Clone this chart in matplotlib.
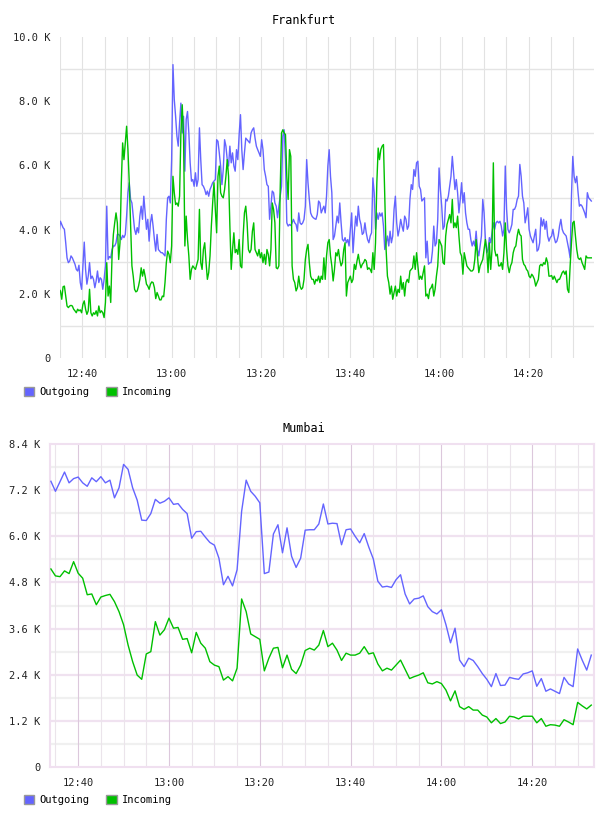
import numpy as np
import matplotlib
matplotlib.use("Agg")
import matplotlib.pyplot as plt
from matplotlib.patches import Patch
from matplotlib.ticker import FuncFormatter

# ---- data (values in thousands) ----
# Frankfurt: ~18 s samples from 12:34:30 to 14:34
fra_out = [4.26, 3.90, 4.26, 4.16, 4.06, 4.01, 3.59, 3.12, 2.97, 3.02, 3.18, 3.12, 3.02, 2.92, 2.76, 2.71,
           2.89, 2.35, 2.14, 2.87, 3.61, 2.76, 2.30, 2.55, 2.97, 2.47, 2.55, 2.45, 2.19, 2.40, 2.71, 2.35,
           2.50, 2.45, 2.14, 2.45, 2.87, 4.73, 3.07, 3.16, 3.12, 3.38, 3.49, 3.49, 3.59, 3.85, 3.85, 3.80,
           3.69, 3.82, 3.75, 3.85, 4.42, 5.15, 5.46, 4.94, 4.83, 4.42, 4.01, 3.85, 4.06, 3.90, 4.42, 4.73,
           4.32, 5.04, 4.52, 4.01, 4.32, 3.64, 4.21, 4.47, 4.11, 3.69, 3.33, 3.85, 3.38, 3.33, 3.28, 3.28,
           3.23, 3.18, 4.32, 4.99, 5.04, 4.83, 6.18, 9.14, 8.05, 7.53, 6.91, 6.60, 7.32, 7.94, 7.01, 7.53,
           5.82, 7.43, 7.68, 7.01, 6.08, 5.51, 5.56, 5.35, 5.77, 5.35, 5.56, 7.17, 6.18, 5.40, 5.35, 5.25,
           5.09, 5.20, 5.04, 5.25, 5.35, 5.46, 5.51, 5.56, 6.80, 6.75, 6.39, 5.98, 5.40, 5.87, 6.80, 6.60,
           6.18, 5.98, 6.60, 6.08, 6.39, 5.98,
           5.82, 6.49, 6.18, 6.96, 7.58, 6.49, 5.87, 6.39, 6.85, 6.80, 6.75, 6.70, 7.01, 7.11, 7.17, 6.85,
           6.60, 6.49, 6.39, 6.28, 6.80, 6.49, 5.87, 5.66, 5.40, 5.35, 4.32, 4.73, 5.20, 5.15, 4.83, 4.73,
           4.37, 4.73, 5.04, 5.35, 6.91, 7.11, 6.18, 4.21, 4.11, 4.16, 4.13, 4.21, 4.32, 4.21, 4.16, 3.95,
           4.52, 4.21, 4.16, 4.21, 4.32, 4.73, 6.18, 5.46, 4.94, 4.52, 4.42, 4.37, 4.34, 4.32, 4.47, 4.89,
           4.83, 4.52, 4.63, 4.73, 4.52, 5.04, 5.98, 6.49, 5.66, 5.15, 3.69, 3.80, 4.11, 4.42, 4.21, 4.83,
           4.21, 3.69, 3.64, 3.75, 3.59, 3.69, 3.49, 4.01, 4.52, 3.28, 3.90, 4.42, 4.11, 4.73, 4.32, 4.16,
           3.85, 3.90, 4.21, 3.90, 3.69, 3.59, 3.80, 3.90, 5.61, 5.15, 4.01, 4.52, 4.32, 4.52, 4.42, 4.52,
           4.11, 3.38, 3.59, 3.80, 3.49, 3.95, 3.59, 3.80, 4.63, 5.04, 4.21, 3.80, 4.01, 4.32, 4.11, 3.95,
           4.42, 4.32, 4.01, 4.11,
           4.94, 5.40, 5.25, 5.87, 5.66, 6.08, 6.13, 5.35, 5.25, 4.89, 4.94, 4.99, 3.12, 3.64, 2.92, 2.97,
           2.97, 3.33, 4.11, 3.49, 3.59, 4.32, 5.92, 5.25, 4.73, 4.01, 4.11, 4.94, 4.89, 5.04, 5.35, 5.66,
           6.28, 5.77, 5.25, 5.56, 5.15, 4.52, 4.94, 5.46, 4.83, 5.15, 4.52, 4.21, 4.01, 4.01, 3.69, 3.49,
           3.64, 3.49, 3.95, 3.38, 3.18, 3.49, 3.80, 4.94, 4.52, 3.69, 3.28, 3.38, 3.75, 3.59, 3.90, 4.21,
           4.01, 4.21, 4.26, 4.21, 4.26, 4.11, 3.80, 4.01, 5.98, 4.63, 4.01, 3.90, 4.01, 4.16, 4.63, 4.63,
           4.73, 4.94, 5.04, 6.03, 5.66, 5.04, 4.83, 4.21, 4.42, 4.68, 4.01, 3.80, 3.69, 3.59, 3.80, 4.01,
           3.33, 3.38, 3.59, 4.37, 4.11, 4.32, 4.01, 4.26, 3.80, 3.64, 3.75, 3.80, 4.01, 3.75, 3.59, 3.64,
           3.80, 4.11, 4.32, 4.01, 3.90, 3.85, 3.80, 3.59, 3.38, 3.12, 5.04, 6.28, 5.66, 5.46, 5.66, 5.15,
           4.73, 4.78, 4.73, 4.63, 4.52, 4.37, 5.15, 4.99, 4.94, 4.89]

fra_in = [2.35, 2.14, 2.09, 1.83, 2.22, 2.24, 1.93, 1.62, 1.57, 1.62, 1.64, 1.62, 1.52, 1.47, 1.41, 1.52,
          1.47, 1.50, 1.41, 1.67, 1.78, 1.52, 1.36, 1.47, 2.14, 1.41, 1.31, 1.41, 1.36, 1.47, 1.31, 1.62,
          1.41, 1.47, 1.41, 1.26, 1.73, 2.97, 1.93, 2.24, 1.73, 3.18, 3.85, 4.21, 4.52, 4.21, 3.07, 3.59,
          5.46, 6.70, 6.18, 6.70, 7.22, 6.49, 5.46, 4.11, 2.87, 2.55, 2.14, 2.06, 2.09, 2.24, 2.45, 2.81,
          2.55, 2.76, 2.55, 2.30, 2.24, 2.14, 2.30, 2.37, 2.35, 2.19, 1.85, 2.04, 1.93, 1.81, 1.81, 1.93,
          1.91, 2.35, 2.97, 3.33, 3.23, 2.97, 3.49, 5.66, 5.15, 4.78, 4.83, 4.73, 5.04, 7.01, 7.89, 6.91,
          3.49, 4.42, 3.69, 3.18, 2.45, 2.76, 2.87, 2.81, 2.76, 2.92, 3.07, 4.63, 2.97, 2.76, 3.38, 3.59,
          2.97, 2.45, 2.66, 3.18, 4.11, 4.83, 5.46, 4.63, 3.90, 5.66, 5.98, 5.15, 5.04, 4.99, 5.25, 5.66,
          6.18, 5.66, 4.11, 2.76, 3.38, 3.90,
          3.28, 3.38, 3.23, 3.69, 2.87, 2.81, 3.80, 4.52, 4.73, 4.21, 3.38, 3.28, 3.38, 3.95, 4.21, 3.38,
          3.28, 3.18, 3.38, 3.12, 3.28, 2.97, 3.23, 2.92, 3.38, 3.23, 2.87, 3.38, 4.83, 4.63, 4.21, 2.81,
          2.78, 2.87, 5.25, 7.01, 7.11, 7.01, 6.96, 5.66, 4.94, 6.49, 6.28, 2.87, 2.45, 2.35, 2.09, 2.19,
          2.55, 2.24, 2.14, 2.19, 2.45, 3.07, 3.38, 3.54, 2.97, 2.55, 2.45, 2.45, 2.30, 2.45, 2.40, 2.55,
          2.35, 2.55, 2.45, 3.12, 2.45, 3.18, 3.59, 3.69, 3.18, 2.87, 2.40, 2.76, 3.28, 3.18, 3.38, 3.07,
          2.87, 2.97, 3.38, 3.59, 1.93, 2.35, 2.45, 2.55, 2.35, 2.45, 2.92, 2.76, 3.02, 3.23, 2.97, 2.81,
          2.92, 2.97, 3.07, 3.02, 2.76, 2.81, 2.76, 2.66, 3.28, 2.76, 3.59, 5.46, 6.54, 6.18, 6.49, 6.60,
          6.65, 5.04, 3.38, 2.55, 2.35, 1.99, 2.24, 1.83, 2.04, 2.24, 1.93, 2.14, 2.04, 2.55, 2.14, 2.35,
          1.93, 2.35, 2.45, 2.35,
          2.71, 2.76, 2.81, 3.18, 2.76, 3.28, 2.87, 2.45, 2.55, 2.45, 2.66, 2.87, 1.93, 1.99, 1.85, 2.14,
          2.19, 2.30, 1.93, 2.14, 2.55, 2.87, 3.69, 3.59, 3.49, 2.97, 2.92, 3.80, 4.16, 4.32, 4.47, 4.21,
          4.94, 4.06, 4.21, 4.06, 4.42, 3.80, 3.28, 3.18, 2.61, 3.28, 3.07, 2.87, 2.81, 2.76, 2.71, 2.71,
          2.76, 3.07, 3.69, 3.18, 2.66, 2.87, 2.97, 3.07, 3.38, 3.69, 3.38, 2.66, 3.59, 2.76, 3.38, 6.08,
          3.38, 3.18, 3.23, 2.87, 2.87, 2.97, 2.76, 3.28, 4.21, 3.38, 2.87, 2.66, 2.87, 2.97, 3.28, 3.43,
          3.49, 3.80, 4.01, 3.85, 3.80, 3.07, 2.92, 2.87, 2.76, 2.71, 2.55, 2.50, 2.61, 2.55, 2.45, 2.24,
          2.35, 2.45, 2.87, 2.92, 2.87, 2.97, 2.92, 3.12, 2.97, 2.55, 2.55, 2.57, 2.45, 2.55, 2.45, 2.35,
          2.45, 2.45, 2.55, 2.66, 2.71, 2.61, 2.71, 2.14, 2.04, 2.87, 3.59, 4.21, 4.26, 3.80, 3.38, 3.12,
          3.07, 3.12, 2.97, 2.87, 2.76, 3.18, 3.12, 3.12, 3.12, 3.12]

# Mumbai: one sample per minute from 12:34
mum_out = [7.43, 7.17, 7.42, 7.67, 7.39, 7.50, 7.54, 7.39, 7.30, 7.52, 7.42, 7.55, 7.39, 7.46, 7.00, 7.26,
           7.87, 7.74, 7.26, 6.94, 6.42, 6.41, 6.59, 6.96, 6.86, 6.91, 7.00, 6.83, 6.85, 6.70, 6.59, 5.95,
           6.12, 6.13, 5.98, 5.84, 5.77, 5.43, 4.74, 4.96, 4.71, 5.13, 6.65, 7.46, 7.17, 7.04, 6.87, 5.03,
           5.07, 6.06, 6.30, 5.57, 6.22, 5.48, 5.19, 5.43, 6.16, 6.17, 6.17, 6.32, 6.84, 6.32, 6.34, 6.33,
           5.78, 6.17, 6.19, 6.00, 5.83, 6.07, 5.72, 5.41, 4.83, 4.68, 4.70, 4.67, 4.87, 5.00, 4.50, 4.24,
           4.37, 4.39, 4.45, 4.17, 4.04, 3.98, 4.09, 3.70, 3.23, 3.61, 2.78, 2.61, 2.83, 2.77, 2.61, 2.43,
           2.28, 2.09, 2.43, 2.12, 2.13, 2.33, 2.30, 2.28, 2.42, 2.45, 2.50, 2.10, 2.30, 1.97, 2.03, 1.97,
           1.91, 2.33, 2.16, 2.09, 3.07, 2.78, 2.52, 2.91]
mum_in = [5.15, 4.97, 4.95, 5.10, 5.03, 5.34, 5.04, 4.91, 4.48, 4.50, 4.22, 4.42, 4.46, 4.49, 4.30, 4.04,
          3.70, 3.17, 2.74, 2.39, 2.28, 2.94, 3.00, 3.78, 3.43, 3.57, 3.87, 3.61, 3.63, 3.32, 3.34, 2.97,
          3.50, 3.22, 3.09, 2.74, 2.65, 2.61, 2.26, 2.35, 2.24, 2.57, 4.37, 4.04, 3.46, 3.39, 3.32, 2.50,
          2.83, 3.09, 3.11, 2.58, 2.91, 2.54, 2.43, 2.65, 3.03, 3.09, 3.04, 3.17, 3.55, 3.13, 3.22, 3.04,
          2.77, 2.96, 2.91, 2.91, 2.96, 3.13, 2.94, 2.97, 2.68, 2.50, 2.57, 2.52, 2.65, 2.78, 2.54, 2.30,
          2.35, 2.39, 2.45, 2.19, 2.16, 2.22, 2.17, 2.00, 1.72, 1.98, 1.57, 1.50, 1.57, 1.48, 1.48, 1.35,
          1.30, 1.15, 1.26, 1.13, 1.17, 1.32, 1.30, 1.25, 1.32, 1.32, 1.32, 1.15, 1.26, 1.06, 1.10, 1.09,
          1.06, 1.23, 1.17, 1.10, 1.68, 1.59, 1.51, 1.61]

series_names = ["Outgoing", "Incoming"]
fra_yticks = [0, 2, 4, 6, 8, 10]
fra_ylabels = ["0", "2.0 K", "4.0 K", "6.0 K", "8.0 K", "10.0 K"]
fra_ygrid = [1, 3, 5, 7, 9]
mum_yticks = [0, 1.2, 2.4, 3.6, 4.8, 6.0, 7.2, 8.4]
mum_ylabels = ["0", "1.2 K", "2.4 K", "3.6 K", "4.8 K", "6.0 K", "7.2 K", "8.4 K"]
mum_yminor = [0.6, 1.8, 3.0, 4.2, 5.4, 6.6, 7.8]
xticks = [760, 780, 800, 820, 840, 860]   # minutes after midnight, 12:40 .. 14:20
xgrid = list(range(755, 875, 5))          # every 5 minutes

blue = "#6464ff"
green = "#00c000"
font = "DejaVu Sans Mono"


def hhmm(v, pos=None):
    return "%d:%02d" % (int(v) // 60, int(v) % 60)


W, H = 608, 816
fig = plt.figure(figsize=(W / 100, H / 100), dpi=100)


def add_ax(l, t, r, b):
    return fig.add_axes([l / W, 1 - b / H, (r - l) / W, (b - t) / H])


# ---------- Frankfurt ----------
ax1 = add_ax(60, 37, 594, 358)
t_fo = np.linspace(754.5, 874.0, len(fra_out))
t_fi = np.linspace(754.5, 874.0, len(fra_in))
ax1.plot(t_fo, fra_out, color=blue, lw=1.0, zorder=3)
ax1.plot(t_fi, fra_in, color=green, lw=1.0, zorder=3)
ax1.set_xlim(755, 874.6)
ax1.set_ylim(0, 10)
ax1.set_yticks(fra_yticks)
ax1.set_yticklabels(fra_ylabels)
ax1.set_xticks(xticks)
ax1.xaxis.set_major_formatter(FuncFormatter(hhmm))
for m in xgrid:
    ax1.axvline(m, color="#e2e2e2", lw=0.8, zorder=1)
for v in fra_ygrid:
    ax1.axhline(v, color="#e4e4e4", lw=1.0, zorder=1)
for s in ax1.spines.values():
    s.set_visible(False)

# ---------- Mumbai ----------
ax2 = add_ax(50, 444, 594, 767)
t_m = 754 + np.arange(len(mum_out))
ax2.plot(t_m, mum_out, color=blue, lw=1.0, zorder=3)
ax2.plot(t_m, mum_in, color=green, lw=1.0, zorder=3)
ax2.set_xlim(753.8, 873.6)
ax2.set_ylim(0, 8.4)
ax2.set_yticks(mum_yticks)
ax2.set_yticklabels(mum_ylabels)
ax2.set_xticks(xticks)
ax2.xaxis.set_major_formatter(FuncFormatter(hhmm))
for v in mum_yminor:
    ax2.axhline(v, color="#f0f0f0", lw=1.6, zorder=1)
for v in mum_yticks[1:-1]:
    ax2.axhline(v, color="#f0e2f0", lw=1.6, zorder=1)
for m in xgrid:
    major = m in xticks
    ax2.axvline(m, color="#dcc8dc" if major else "#ebe4eb", lw=0.8, zorder=1)
for s in ax2.spines.values():
    s.set_color("#f0e0f0")
    s.set_linewidth(1.5)

for ax in (ax1, ax2):
    ax.tick_params(which="both", length=0)
    ax.tick_params(axis="y", pad=7, labelsize=7.5, labelcolor="#222222")
    ax.tick_params(axis="x", pad=8, labelsize=7.5, labelcolor="#222222")
    for lab in ax.get_xticklabels() + ax.get_yticklabels():
        lab.set_family(font)

fig.text(0.5, 1 - 20 / H, "Frankfurt", ha="center", va="center", family=font, fontsize=8.5)
fig.text(0.5, 1 - 428 / H, "Mumbai", ha="center", va="center", family=font, fontsize=8.5)

handles = [Patch(facecolor=blue, edgecolor="#999999", lw=1.0),
           Patch(facecolor=green, edgecolor="#999999", lw=1.0)]
for ycen in (392, 800):
    fig.legend(handles, series_names, loc="center left", bbox_to_anchor=(24 / W, 1 - ycen / H),
               ncol=2, frameon=False, borderpad=0, borderaxespad=0, handlelength=1.0,
               handleheight=1.0, handletextpad=0.5, columnspacing=1.6,
               prop={"family": font, "size": 7.5})

fig.savefig("out.png", dpi=100)
